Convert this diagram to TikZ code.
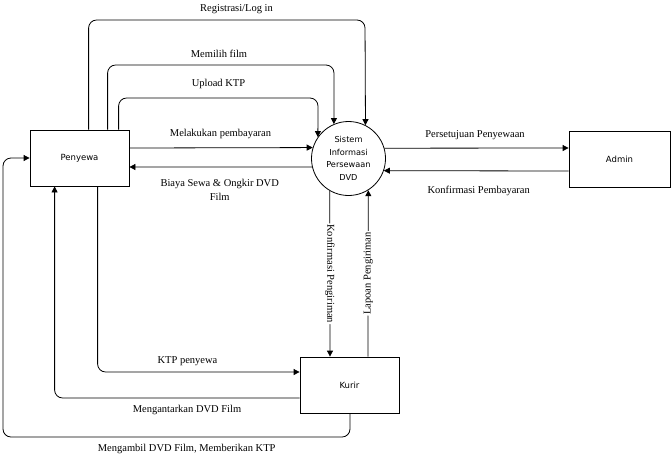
\documentclass[tikz,border=0pt]{standalone}
\usepackage{fontspec}
\setmainfont{Liberation Serif}
\newfontfamily\nodefont{DejaVu Sans}
\usetikzlibrary{arrows.meta}
\tikzset{
  ent/.style={draw, line width=0.8pt, minimum width=99pt, minimum height=56pt, inner sep=0pt, font=\nodefont\fontsize{8.5}{10}\selectfont},
  proc/.style={draw, circle, line width=0.8pt, minimum size=74pt, inner sep=0pt, align=center, font=\nodefont\fontsize{8.2}{12.5}\selectfont},
  flow/.style={line width=0.8pt, rounded corners=8pt, -{Triangle[length=6pt,width=6pt]}},
  lbl/.style={font=\fontsize{10.5}{14}\selectfont, inner sep=1pt, align=center},
  vlbl/.style={font=\fontsize{10.5}{12}\selectfont, fill=white, inner sep=1pt}
}
\begin{document}
\begin{tikzpicture}[x=1pt,y=-1pt]
\useasboundingbox (0,0) rectangle (671,464);
\node[ent] (pen) at (79.5,158) {Penyewa};
\node[proc] (sis) at (348.5,158.5) {Sistem\\Informasi\\Persewaan\\DVD};
\node[ent, minimum width=101pt] (adm) at (619.5,159) {Admin};
\node[ent] (kur) at (349.5,385) {Kurir};

% top loops
\draw[flow] ([xshift=59pt]pen.north west) |- (365,20) -- (sis.63.5);
\draw[flow] ([xshift=78pt]pen.north west) |- (334,65) -- (sis.113);
\draw[flow] ([xshift=89pt]pen.north west) |- (318,98) -- (sis.145.5);

% horizontal flows
\draw[flow] ([yshift=10pt]pen.east) -- (sis.163.5);
\draw[flow] (sis.193.3) -- ([yshift=-9pt]pen.east);
\draw[flow] (sis.16.5) -- ([yshift=11pt]adm.west);
\draw[flow] ([yshift=-12pt]adm.west) -- (sis.-19.7);

% vertical flows between system and courier
\draw[flow] (sis.240) -- node[vlbl, rotate=-90] (lkp) {Konfirmasi Pengiriman} ([xshift=-19.5pt]kur.north);
\draw[flow] ([xshift=18.5pt]kur.north) -- node[vlbl, rotate=90] (llp) {Lapoan Pengiriman} (sis.-58.2);

% bottom loops
\draw[flow] ([xshift=68pt]pen.south west) |- ([yshift=13pt]kur.west);
\draw[flow] ([yshift=-13pt]kur.west) -| ([xshift=25pt]pen.south west);
\draw[flow] ([xshift=0.5pt]kur.south) |- (3,437) |- (pen.west);

% labels
\node[lbl] (l1) at (236.5,9) {Registrasi/Log in};
\node[lbl] (l2) at (219,54) {Memilih film};
\node[lbl] (l3) at (218.5,84) {Upload KTP};
\node[lbl] (l4) at (220.5,134) {Melakukan pembayaran};
\node[lbl] (l5) at (219.7,190) {Biaya Sewa \& Ongkir DVD\\Film};
\node[lbl] (l6) at (475,135) {Persetujuan Penyewaan};
\node[lbl] (l7) at (478.7,191) {Konfirmasi Pembayaran};
\node[lbl] (l8) at (187.5,361) {KTP penyewa};
\node[lbl] (l9) at (187,410) {Mengantarkan DVD Film};
\node[lbl] (l10) at (186.7,449) {Mengambil DVD Film, Memberikan KTP};
\end{tikzpicture}
\end{document}
